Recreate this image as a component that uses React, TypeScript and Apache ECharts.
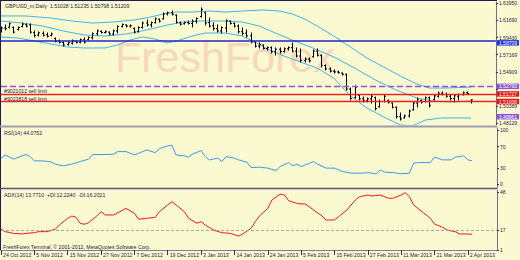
import React, { useEffect, useRef } from 'react';
import * as echarts from 'echarts';

const dateLabels = ['24 Oct 2012', '5 Nov 2012', '15 Nov 2012', '27 Nov 2012', '7 Dec 2012', '19 Dec 2012', '3 Jan 2013', '14 Jan 2013', '24 Jan 2013', '5 Feb 2013', '15 Feb 2013', '27 Feb 2013', '11 Mar 2013', '21 Mar 2013', '2 Apr 2013'];
const slotCount = 120;
const labelEvery = 8;

const opens = [1.6030,1.6070,1.6080,1.6075,1.6050,1.6090,1.6115,1.6110,1.6010,1.5975,1.6000,1.5980,1.5970,1.5930,1.5900,1.5878,1.5850,1.5870,1.5895,1.5880,1.5915,1.5915,1.5940,1.5995,1.6025,1.6010,1.6015,1.5990,1.6030,1.6090,1.6110,1.6095,1.6065,1.6020,1.6075,1.6135,1.6110,1.6140,1.6185,1.6190,1.6255,1.6270,1.6240,1.6140,1.6125,1.6140,1.6130,1.6160,1.6220,1.6270,1.6140,1.6100,1.6060,1.6030,1.6070,1.6160,1.6130,1.6095,1.6020,1.6000,1.5965,1.5885,1.5830,1.5845,1.5800,1.5810,1.5755,1.5790,1.5760,1.5795,1.5810,1.5765,1.5700,1.5640,1.5660,1.5690,1.5765,1.5710,1.5575,1.5530,1.5500,1.5490,1.5475,1.5455,1.5265,1.5150,1.5180,1.5135,1.5110,1.5135,1.5150,1.5030,1.5100,1.5110,1.5080,1.5025,1.4900,1.4885,1.4910,1.4990,1.5080,1.5115,1.5100,1.5150,1.5125,1.5170,1.5210,1.5195,1.5170,1.5140,1.5170,1.5190,1.5215,1.51028];
const closes = [1.6070,1.6060,1.6125,1.6015,1.6075,1.6120,1.6095,1.6015,1.5970,1.6005,1.5975,1.5960,1.5990,1.5895,1.5880,1.5845,1.5875,1.5900,1.5880,1.5915,1.5885,1.5945,1.5995,1.6030,1.6010,1.6020,1.5990,1.6030,1.6090,1.6115,1.6095,1.6100,1.6015,1.6075,1.6135,1.6110,1.6140,1.6190,1.6160,1.6255,1.6270,1.6250,1.6145,1.6120,1.6140,1.6130,1.6160,1.6195,1.6310,1.6135,1.6095,1.6060,1.6030,1.6075,1.6165,1.6130,1.6095,1.6020,1.6000,1.5965,1.5885,1.5830,1.5850,1.5800,1.5810,1.5755,1.5790,1.5760,1.5795,1.5810,1.5765,1.5700,1.5640,1.5660,1.5635,1.5765,1.5710,1.5575,1.5530,1.5500,1.5490,1.5480,1.5460,1.5265,1.5140,1.5290,1.5135,1.5110,1.5135,1.5170,1.5005,1.5100,1.5170,1.5090,1.5025,1.4900,1.4870,1.4910,1.4975,1.5080,1.5130,1.5095,1.5150,1.5050,1.5175,1.5210,1.5195,1.5170,1.5140,1.5175,1.5190,1.5215,1.5205,1.51209];
const lows = [1.6017,1.6043,1.6069,1.6003,1.6043,1.6083,1.6083,1.6003,1.5951,1.5964,1.5964,1.5951,1.5964,1.5885,1.5872,1.5832,1.5845,1.5858,1.5872,1.5872,1.5872,1.5911,1.5924,1.5977,1.6003,1.6003,1.5977,1.5977,1.6003,1.6083,1.6083,1.6083,1.6003,1.6017,1.6069,1.6096,1.6083,1.6135,1.6148,1.6188,1.6241,1.6241,1.6135,1.6109,1.6122,1.6122,1.6083,1.6135,1.6214,1.6109,1.6083,1.6043,1.6017,1.6003,1.6017,1.6122,1.6083,1.6003,1.5977,1.5951,1.5872,1.5819,1.5806,1.5793,1.5779,1.5740,1.5713,1.5740,1.5753,1.5779,1.5753,1.5687,1.5621,1.5621,1.5621,1.5687,1.5700,1.5555,1.5516,1.5489,1.5476,1.5476,1.5450,1.5252,1.5120,1.5146,1.5120,1.5094,1.5094,1.5080,1.4988,1.5028,1.5094,1.5080,1.5015,1.4883,1.4856,1.4883,1.4896,1.4988,1.5028,1.5080,1.5094,1.5028,1.5120,1.5159,1.5186,1.5159,1.5120,1.5094,1.5120,1.5186,1.5199,1.50798];
const highs = [1.6083,1.6109,1.6135,1.6083,1.6083,1.6135,1.6122,1.6122,1.6030,1.6017,1.6017,1.6003,1.6003,1.5938,1.5911,1.5885,1.5885,1.5911,1.5898,1.5924,1.5938,1.5951,1.6003,1.6043,1.6030,1.6030,1.6017,1.6043,1.6096,1.6122,1.6109,1.6109,1.6069,1.6083,1.6148,1.6175,1.6148,1.6201,1.6188,1.6267,1.6280,1.6293,1.6241,1.6148,1.6148,1.6162,1.6175,1.6201,1.6333,1.6280,1.6201,1.6135,1.6109,1.6083,1.6175,1.6162,1.6135,1.6109,1.6069,1.6043,1.6003,1.5885,1.5872,1.5845,1.5819,1.5819,1.5806,1.5806,1.5806,1.5819,1.5872,1.5806,1.5793,1.5674,1.5674,1.5779,1.5793,1.5713,1.5582,1.5542,1.5516,1.5502,1.5476,1.5463,1.5278,1.5304,1.5186,1.5159,1.5146,1.5186,1.5159,1.5120,1.5186,1.5120,1.5080,1.5028,1.4949,1.4922,1.4988,1.5094,1.5146,1.5120,1.5159,1.5159,1.5186,1.5225,1.5225,1.5212,1.5186,1.5186,1.5199,1.5225,1.5225,1.51235];

const upperBand = [[0,1.6228],[6,1.6228],[12,1.6201],[17,1.6162],[22,1.6135],[27,1.6148],[32,1.6175],[36,1.6214],[39,1.6254],[42,1.6280],[46,1.6280],[50,1.6293],[54,1.6280],[58,1.6293],[63,1.6307],[67,1.6293],[70,1.6254],[73,1.6188],[76,1.6096],[80,1.5964],[84,1.5819],[88,1.5674],[92,1.5555],[96,1.5436],[100,1.5331],[103,1.5278],[107,1.5278],[113,1.5291]];
const middleBand = [[0,1.6162],[5,1.6135],[10,1.6096],[15,1.6030],[20,1.5977],[25,1.5964],[30,1.5990],[35,1.6043],[40,1.6109],[44,1.6148],[48,1.6162],[53,1.6162],[58,1.6148],[62,1.6096],[66,1.6003],[70,1.5911],[75,1.5806],[80,1.5687],[85,1.5542],[90,1.5384],[95,1.5252],[100,1.5146],[104,1.5107],[108,1.5094],[113,1.5107]];
const lowerBand = [[0,1.5951],[4,1.5938],[8,1.5898],[12,1.5858],[16,1.5819],[20,1.5806],[25,1.5806],[28,1.5845],[31,1.5911],[34,1.5951],[37,1.5924],[40,1.5872],[43,1.5911],[46,1.5964],[49,1.6003],[54,1.6003],[58,1.5964],[61,1.5885],[64,1.5793],[68,1.5700],[72,1.5621],[76,1.5542],[80,1.5410],[84,1.5173],[88,1.5015],[92,1.4896],[96,1.4791],[99,1.4778],[102,1.4856],[106,1.4883],[113,1.4883]];

const rsiPoints = [[0,48.7],[1,54.8],[3,46.9],[5,53.0],[6,55.4],[7,51.7],[8,43.7],[10,43.7],[12,41.9],[13,37.6],[15,34.5],[17,37.6],[19,42.4],[21,46.9],[22,55.4],[24,55.4],[27,56.1],[28,60.9],[30,60.9],[32,54.8],[33,57.9],[35,64.0],[37,59.0],[38,66.4],[40,71.4],[41,72.7],[42,54.8],[44,53.0],[45,50.6],[46,56.6],[48,62.7],[49,51.7],[50,45.6],[52,48.7],[53,42.4],[54,51.7],[56,48.7],[57,45.6],[59,41.3],[60,31.4],[62,32.1],[64,30.3],[66,25.8],[67,33.2],[69,40.6],[70,34.5],[71,37.6],[72,33.2],[75,42.4],[76,37.6],[78,30.3],[80,30.3],[82,24.0],[84,21.0],[87,21.0],[88,22.1],[90,19.7],[91,27.1],[92,22.9],[94,22.1],[96,19.7],[98,21.0],[99,39.5],[100,40.6],[103,40.6],[104,50.6],[106,45.6],[108,45.6],[109,50.6],[111,53.0],[112,45.6],[113,44.08]];
const adxPoints = [[0,17.9],[1,16.0],[3,14.6],[5,14.1],[6,14.6],[8,15.1],[9,16.0],[11,16.0],[13,17.9],[14,21.4],[16,26.9],[17,28.8],[18,27.7],[19,22.8],[20,22.0],[21,23.3],[23,28.8],[24,32.3],[25,29.6],[27,29.6],[29,33.1],[30,35.0],[32,31.0],[33,26.1],[35,26.9],[37,27.7],[38,32.3],[40,37.8],[41,40.5],[42,37.8],[44,32.3],[45,26.9],[47,22.8],[48,24.1],[49,21.4],[51,17.3],[53,15.1],[55,14.6],[57,12.4],[58,14.1],[60,18.7],[61,24.1],[62,28.8],[64,35.0],[65,41.8],[67,46.7],[68,45.9],[69,41.3],[71,39.1],[72,38.6],[73,38.6],[75,33.7],[77,28.8],[78,25.5],[80,25.5],[81,28.2],[83,33.7],[85,41.8],[86,44.5],[88,45.9],[89,45.1],[91,45.9],[93,43.2],[94,43.2],[96,45.9],[97,47.8],[98,44.5],[99,37.8],[101,32.3],[103,26.9],[104,22.2],[106,19.5],[107,17.3],[109,16.0],[110,14.1],[112,14.1],[113,13.77]];

// tick marks on the price axis; the 1.52649 label is covered by an order box in the reference
const priceTicks = [1.63950, 1.61690, 1.59430, 1.57169, 1.54909, 1.52649, 1.50389, 1.48129];
const priceLabelTicks = [1.63950, 1.61690, 1.59430, 1.57169, 1.54909, 1.50389, 1.48129];
const rsiTicks = [0, 30, 70, 100];
const adxTicks = [1, 17, 48];
const adxLevel = 17;

const blueLevel = 1.58709;
const sellLimitLevel = 1.52793;
const redLevel1 = 1.51727;
const redLevel2 = 1.51008;
const purpleLevel2 = 1.48961;
const order1Text = '#9021012 sell limit';
const order2Text = '#9023818 sell limit';

const titleText = 'GBPUSD_m,Daily  1.51028 1.51235 1.50798 1.51209';
const rsiTitle = 'RSI(14) 44.0752';
const adxTitle = 'ADX(14) 13.7710  +DI:12.2240  -DI:16.2021';
const copyright = 'FreshForex Terminal, © 2001-2012, MetaQuotes Software Corp.';
const watermark = 'FreshForex';

const FONT = "'Liberation Sans', Arial, sans-serif";
const TXT = '#1c1c4a';
const FS = 5.2;
const LH = 5;
const CLEAR = 'rgba(0,0,0,0)';

function boxLabel(text: string, bg: string, dy = 0) {
  return {
    show: true,
    position: 'end' as const,
    distance: 1,
    offset: [0, dy],
    formatter: text,
    color: '#ffffff',
    backgroundColor: bg,
    fontSize: 5,
    lineHeight: LH,
    fontFamily: FONT,
    padding: [0.3, 2, 0.2, 2],
  };
}

function sideText(text: string) {
  return {
    show: true,
    position: 'insideStartTop' as const,
    distance: [3, 0.5],
    formatter: text,
    color: TXT,
    fontSize: FS,
    lineHeight: LH,
    fontFamily: FONT,
  };
}

export default function App() {
  const ref = useRef<HTMLDivElement>(null);

  useEffect(() => {
    if (!ref.current) return;
    const chart = echarts.init(ref.current, undefined, { renderer: 'svg' });
    const cats = Array.from({ length: slotCount }, (_, i) => String(i));
    const ohlc = opens.map((o, i) => [i, o, closes[i], lows[i], highs[i]]);

    const baseX = (gridIndex: number, showLabels: boolean) => ({
      type: 'category' as const,
      gridIndex,
      data: cats,
      boundaryGap: false,
      axisLine: { show: showLabels, lineStyle: { color: '#7c7c9c', width: 1 } },
      axisTick: { show: showLabels, interval: labelEvery - 1, length: 5, lineStyle: { color: '#30305a' } },
      axisLabel: {
        show: showLabels,
        interval: labelEvery - 1,
        align: 'left' as const,
        margin: 2,
        padding: [0, 0, 0, 2],
        fontSize: FS,
        fontFamily: FONT,
        color: TXT,
        formatter: (_v: string, idx: number) => (idx % labelEvery === 0 && dateLabels[idx / labelEvery]) || '',
      },
      splitLine: { show: false },
    });

    const baseY = (gridIndex: number, min: number, max: number, ticks: number[], labelTicks: number[], fmt: (v: number) => string) => ({
      type: 'value' as const,
      gridIndex,
      position: 'right' as const,
      min,
      max,
      axisLine: { show: true, lineStyle: { color: '#6c6c94', width: 1 } },
      axisTick: { show: true, length: 2, customValues: ticks, lineStyle: { color: '#30305a' } },
      axisLabel: {
        show: true,
        customValues: labelTicks,
        showMinLabel: true,
        showMaxLabel: true,
        margin: 3,
        fontSize: 5,
        lineHeight: LH,
        fontFamily: FONT,
        color: TXT,
        formatter: fmt,
      },
      splitLine: { show: false },
    });

    const bandStyle = { color: '#3fb4e8', width: 1 };

    chart.setOption({
      animation: false,
      backgroundColor: '#fbf9d0',
      grid: [
        { left: 1, top: 2, width: 496, height: 123 },
        { left: 1, top: 128, width: 496, height: 60 },
        { left: 1, top: 190, width: 496, height: 60 },
      ],
      xAxis: [baseX(0, false), baseX(1, false), baseX(2, true)],
      yAxis: [
        baseY(0, 1.47905, 1.64121, priceTicks, priceLabelTicks, (v) => v.toFixed(5)),
        baseY(1, -6.5, 104.6, rsiTicks, rsiTicks, (v) => String(v)),
        baseY(2, 1, 50, adxTicks, adxTicks, (v) => String(v)),
      ],
      graphic: [
        {
          type: 'text', x: 115, y: 57, z: 0, silent: true,
          style: { text: watermark, fontSize: 43, fontFamily: FONT, fill: '#f7d8b8', verticalAlign: 'middle' },
        },
        { type: 'text', x: 5, y: 3, z: 60, style: { text: titleText, fontSize: FS, fontFamily: FONT, fill: TXT } },
        { type: 'text', x: 4, y: 130.5, z: 60, style: { text: rsiTitle, fontSize: FS, fontFamily: FONT, fill: TXT } },
        { type: 'text', x: 4, y: 192.5, z: 60, style: { text: adxTitle, fontSize: FS, fontFamily: FONT, fill: TXT } },
        { type: 'text', x: 3, y: 244.5, z: 60, style: { text: copyright, fontSize: FS, fontFamily: FONT, fill: TXT } },
        { type: 'line', z: 50, shape: { x1: 0, y1: 0.5, x2: 497, y2: 0.5 }, style: { stroke: '#1a1a60', lineWidth: 1 } },
        { type: 'line', z: 50, shape: { x1: 0.5, y1: 0, x2: 0.5, y2: 250 }, style: { stroke: '#1a1a60', lineWidth: 1 } },
        { type: 'line', z: 50, shape: { x1: 0, y1: 126.5, x2: 497, y2: 126.5 }, style: { stroke: '#9c9cac', lineWidth: 2 } },
        { type: 'line', z: 50, shape: { x1: 0, y1: 188.5, x2: 497, y2: 188.5 }, style: { stroke: '#55557c', lineWidth: 1.5 } },
      ],
      series: [
        {
          type: 'custom',
          xAxisIndex: 0,
          yAxisIndex: 0,
          clip: true,
          encode: { x: 0, y: [1, 2, 3, 4] },
          data: ohlc,
          renderItem: (_p: any, api: any) => {
            const x = api.value(0);
            const o = api.coord([x, api.value(1)]);
            const c = api.coord([x, api.value(2)]);
            const l = api.coord([x, api.value(3)]);
            const h = api.coord([x, api.value(4)]);
            const px = Math.round(o[0]) + 0.5;
            const st = { stroke: '#000000', lineWidth: 1 };
            return {
              type: 'group',
              children: [
                { type: 'line', shape: { x1: px, y1: h[1] - 0.5, x2: px, y2: l[1] + 0.5 }, style: st },
                { type: 'line', shape: { x1: px - 1.5, y1: o[1], x2: px, y2: o[1] }, style: st },
                { type: 'line', shape: { x1: px, y1: c[1], x2: px + 1.5, y2: c[1] }, style: st },
              ],
            };
          },
          z: 3,
        },
        { type: 'line', xAxisIndex: 0, yAxisIndex: 0, data: upperBand, showSymbol: false, lineStyle: bandStyle, z: 2 },
        {
          type: 'line', xAxisIndex: 0, yAxisIndex: 0, data: middleBand, showSymbol: false, lineStyle: bandStyle, z: 2,
          markLine: {
            symbol: 'none',
            silent: true,
            animation: false,
            data: [
              { yAxis: blueLevel, lineStyle: { color: '#2424c8', width: 1.5, type: 'solid' }, label: boxLabel(blueLevel.toFixed(5), '#1f35e6', 2) },
              { yAxis: sellLimitLevel, lineStyle: { color: '#9a4ee0', width: 1.3, type: [6, 3] }, label: boxLabel(sellLimitLevel.toFixed(5), '#8f55d8') },
              { yAxis: redLevel1, lineStyle: { color: '#ff2020', width: 1.3, type: 'solid' }, label: boxLabel(redLevel1.toFixed(5), '#f01010') },
              { yAxis: redLevel1, lineStyle: { color: CLEAR, width: 0 }, label: sideText(order1Text) },
              { yAxis: redLevel2, lineStyle: { color: '#ff2020', width: 1.3, type: 'solid' }, label: boxLabel(redLevel2.toFixed(5), '#f01010') },
              { yAxis: redLevel2, lineStyle: { color: CLEAR, width: 0 }, label: sideText(order2Text) },
              { yAxis: purpleLevel2, lineStyle: { color: CLEAR, width: 0 }, label: boxLabel(purpleLevel2.toFixed(5), '#8f55d8') },
            ],
          },
        },
        { type: 'line', xAxisIndex: 0, yAxisIndex: 0, data: lowerBand, showSymbol: false, lineStyle: bandStyle, z: 2 },
        {
          type: 'line', xAxisIndex: 1, yAxisIndex: 1, data: rsiPoints, showSymbol: false,
          lineStyle: { color: '#3c9ae8', width: 1 },
        },
        {
          type: 'line', xAxisIndex: 2, yAxisIndex: 2, data: adxPoints, showSymbol: false,
          lineStyle: { color: '#ff1818', width: 1 },
          markLine: {
            symbol: 'none', silent: true, animation: false, label: { show: false },
            data: [{ yAxis: adxLevel, lineStyle: { color: '#a8a8a8', width: 1, type: [3, 2] } }],
          },
        },
      ],
    });
    return () => chart.dispose();
  }, []);

  return <div ref={ref} style={{ position: 'absolute', left: 0, top: 0, width: 520, height: 260 }} />;
}
